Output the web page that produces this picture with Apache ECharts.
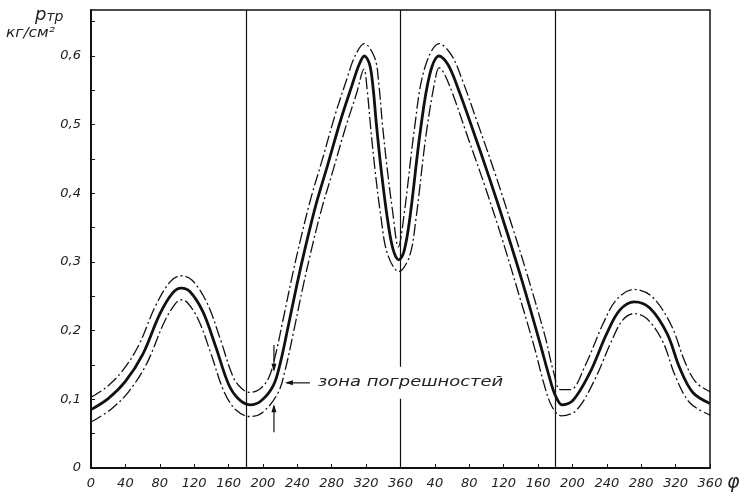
<!DOCTYPE html>
<html>
<head>
<meta charset="utf-8">
<script src="https://cdn.jsdelivr.net/npm/echarts@6.0.0/dist/echarts.min.js"></script>
<style>
html,body{margin:0;padding:0;background:#fff;}
#main{width:754px;height:500px;}
</style>
</head>
<body>
<div id="main"></div>
<script>
// угол phi идёт 0..720 (два оборота), подписи после 360 начинаются заново
// средняя кривая
var phiMid = [0, 20, 40, 60, 80, 95, 105, 115, 130, 145, 160, 172, 185, 198, 212, 220, 230, 240, 250, 262, 275, 290, 303, 312, 318, 324, 328, 332, 337, 344, 351, 358, 364, 371, 383, 394, 405, 415, 426, 444, 464, 484, 502, 522, 533, 540, 548, 561, 580, 600, 615, 632, 650, 670, 685, 700, 720];
var pMid   = [0.085, 0.101, 0.126, 0.165, 0.224, 0.255, 0.262, 0.257, 0.228, 0.177, 0.122, 0.100, 0.092, 0.098, 0.120, 0.152, 0.210, 0.270, 0.325, 0.385, 0.440, 0.505, 0.555, 0.588, 0.600, 0.588, 0.555, 0.500, 0.440, 0.370, 0.320, 0.303, 0.315, 0.365, 0.490, 0.573, 0.600, 0.588, 0.556, 0.493, 0.420, 0.343, 0.270, 0.183, 0.133, 0.106, 0.092, 0.099, 0.138, 0.196, 0.230, 0.242, 0.233, 0.196, 0.145, 0.110, 0.094];
// верхняя граница зоны
var phiUp = [0, 17.3, 36.3, 55.2, 75, 92, 105, 118, 135.1, 150.6, 165.2, 175, 185, 196.4, 206.6, 213.9, 223.6, 233.6, 243.6, 255.8, 268.8, 283.9, 297.2, 307.1, 318, 330.1, 334.8, 338.8, 343.8, 350.7, 357.5, 364.2, 376.3, 387.8, 405, 419.5, 431.6, 449.5, 469.7, 489.9, 508, 528.1, 538, 546, 557.5, 575.1, 595.2, 611.8, 632, 653, 674.9, 690.4, 703.5, 720];
var pUp   = [0.103, 0.117, 0.141, 0.178, 0.236, 0.271, 0.280, 0.273, 0.240, 0.187, 0.133, 0.116, 0.110, 0.115, 0.131, 0.161, 0.217, 0.277, 0.332, 0.393, 0.448, 0.514, 0.565, 0.600, 0.618, 0.597, 0.559, 0.503, 0.444, 0.375, 0.322, 0.369, 0.495, 0.581, 0.618, 0.601, 0.566, 0.503, 0.430, 0.352, 0.279, 0.192, 0.140, 0.114, 0.114, 0.150, 0.209, 0.246, 0.260, 0.249, 0.208, 0.156, 0.125, 0.111];
// нижняя граница зоны
var phiLow = [0, 22.7, 43.7, 64.8, 85, 98, 105, 112, 124.9, 139.4, 154.8, 169, 185, 199.6, 217.4, 226.1, 236.4, 246.4, 256.4, 268.2, 281.2, 296.1, 308.8, 317.5, 321.2, 325.2, 330.2, 337.3, 344.8, 358, 370.4, 377.8, 389.7, 400.2, 405, 410.5, 420.4, 438.5, 458.3, 478.1, 496, 515.9, 527, 536, 547, 564.5, 584.9, 604.8, 618.2, 632, 647, 665.1, 679.6, 696.5, 720];
var pLow   = [0.067, 0.085, 0.111, 0.152, 0.212, 0.239, 0.245, 0.241, 0.216, 0.167, 0.111, 0.084, 0.075, 0.081, 0.109, 0.144, 0.203, 0.263, 0.318, 0.377, 0.432, 0.496, 0.545, 0.581, 0.551, 0.497, 0.436, 0.365, 0.312, 0.286, 0.308, 0.361, 0.485, 0.565, 0.583, 0.575, 0.546, 0.481, 0.410, 0.334, 0.260, 0.175, 0.122, 0.090, 0.076, 0.084, 0.126, 0.183, 0.215, 0.225, 0.217, 0.184, 0.134, 0.095, 0.077];
// вертикальные линии
var turnLines = [180, 360, 540];
// надпись и стрелки (в координатах графика)
var noteText = 'зона погрешностей';
var notePos = [264, 0.124];
var noteArrowTip = [225.5, 0.124];
var zonePhi = 212.8;
var zoneTop = [0.179, 0.140];
var zoneBottom = [0.052, 0.093];

var ink = '#111';

function pairs(xs, ys){
    var list = [];
    for (var i = 0; i < xs.length; i++) {
        list.push([xs[i], ys[i]]);
    }
    return list;
}

var chart = echarts.init(document.getElementById('main'));
chart.setOption({
    animation: false,
    grid: {
        left: 91, right: 44, top: 10, bottom: 32,
        show: true,
        borderColor: ink,
        borderWidth: 1.5
    },
    xAxis: {
        type: 'value',
        min: 0, max: 720, interval: 40,
        axisLine: {lineStyle: {color: ink, width: 2}},
        axisTick: {inside: true, length: 4, lineStyle: {color: ink}},
        splitLine: {show: false},
        axisLabel: {
            margin: 9,
            color: '#222',
            fontStyle: 'italic',
            fontSize: 13,
            fontFamily: 'DejaVu Sans',
            formatter: function (v) { return String(v > 360 ? v - 360 : v); }
        }
    },
    yAxis: {
        type: 'value',
        min: 0, max: 0.667, interval: 0.05,
        axisLine: {show: true, lineStyle: {color: ink, width: 2}},
        axisTick: {show: true, inside: true, length: 4, lineStyle: {color: ink}},
        splitLine: {show: false},
        axisLabel: {
            margin: 10,
            color: '#222',
            fontStyle: 'italic',
            fontSize: 13,
            fontFamily: 'DejaVu Sans',
            showMaxLabel: false,
            formatter: function (v) {
                var k = Math.round(v * 100);
                if (k % 10 !== 0) return '';
                return k === 0 ? '0' : '0,' + (k / 10);
            }
        }
    },
    series: [
        {
            name: 'up', type: 'line', data: pairs(phiUp, pUp),
            showSymbol: false, smooth: 0.35, silent: true,
            lineStyle: {color: ink, width: 1.3, type: [12, 3, 2, 3]}
        },
        {
            name: 'low', type: 'line', data: pairs(phiLow, pLow),
            showSymbol: false, smooth: 0.35, silent: true,
            lineStyle: {color: ink, width: 1.3, type: [12, 3, 2, 3]}
        },
        {
            name: 'mid', type: 'line', data: pairs(phiMid, pMid),
            showSymbol: false, smooth: 0.35, silent: true,
            lineStyle: {color: ink, width: 2.8},
            markLine: {
                silent: true,
                symbol: 'none',
                label: {show: false},
                lineStyle: {color: ink, width: 1.2, type: 'solid'},
                data: turnLines.map(function (x) { return {xAxis: x}; })
            }
        }
    ]
});

// подписи и стрелки
function px(pt){ return chart.convertToPixel({gridIndex: 0}, pt); }
var tip = px(noteArrowTip);
var note = px(notePos);
var zTop0 = px([zonePhi, zoneTop[0]]), zTop1 = px([zonePhi, zoneTop[1]]);
var zBot0 = px([zonePhi, zoneBottom[0]]), zBot1 = px([zonePhi, zoneBottom[1]]);
var arrowStyle = {stroke: ink, lineWidth: 1.2};

chart.setOption({
    graphic: [
        {
            type: 'text', x: 35, y: 6, z: 100,
            style: {
                text: '{a|p}{b|тр}',
                rich: {
                    a: {font: 'italic 18px "DejaVu Sans"', fill: '#222'},
                    b: {font: 'italic 14px "DejaVu Sans"', fill: '#222', padding: [4, 0, 0, 0]}
                }
            }
        },
        {
            type: 'text', x: 6, y: 26, z: 100, scaleX: 1.1,
            style: {text: 'кг/см²', font: 'italic 14px "DejaVu Sans"', fill: '#222'}
        },
        {
            type: 'text', x: 727, y: 474, z: 100,
            style: {text: 'φ', font: 'italic 19px "DejaVu Sans"', fill: '#222'}
        },
        {
            type: 'text', x: note[0] - 4, y: note[1], z: 100, scaleX: 1.28,
            style: {
                text: noteText, font: 'italic 14px "DejaVu Sans"', fill: '#222',
                verticalAlign: 'middle', align: 'left',
                backgroundColor: '#fff', padding: [9, 3]
            }
        },
        {
            type: 'line', z: 101,
            shape: {x1: note[0] - 8, y1: tip[1], x2: tip[0] + 2, y2: tip[1]},
            style: arrowStyle
        },
        {
            type: 'polygon', z: 101,
            shape: {points: [[tip[0], tip[1]], [tip[0] + 8, tip[1] - 2.5], [tip[0] + 8, tip[1] + 2.5]]},
            style: {fill: ink}
        },
        {
            type: 'line', z: 101,
            shape: {x1: zTop0[0], y1: zTop0[1], x2: zTop1[0], y2: zTop1[1] - 2},
            style: arrowStyle
        },
        {
            type: 'polygon', z: 101,
            shape: {points: [[zTop1[0], zTop1[1]], [zTop1[0] - 2.5, zTop1[1] - 8], [zTop1[0] + 2.5, zTop1[1] - 8]]},
            style: {fill: ink}
        },
        {
            type: 'line', z: 101,
            shape: {x1: zBot0[0], y1: zBot0[1], x2: zBot1[0], y2: zBot1[1] + 2},
            style: arrowStyle
        },
        {
            type: 'polygon', z: 101,
            shape: {points: [[zBot1[0], zBot1[1]], [zBot1[0] - 2.5, zBot1[1] + 8], [zBot1[0] + 2.5, zBot1[1] + 8]]},
            style: {fill: ink}
        }
    ]
});
</script>
</body>
</html>
